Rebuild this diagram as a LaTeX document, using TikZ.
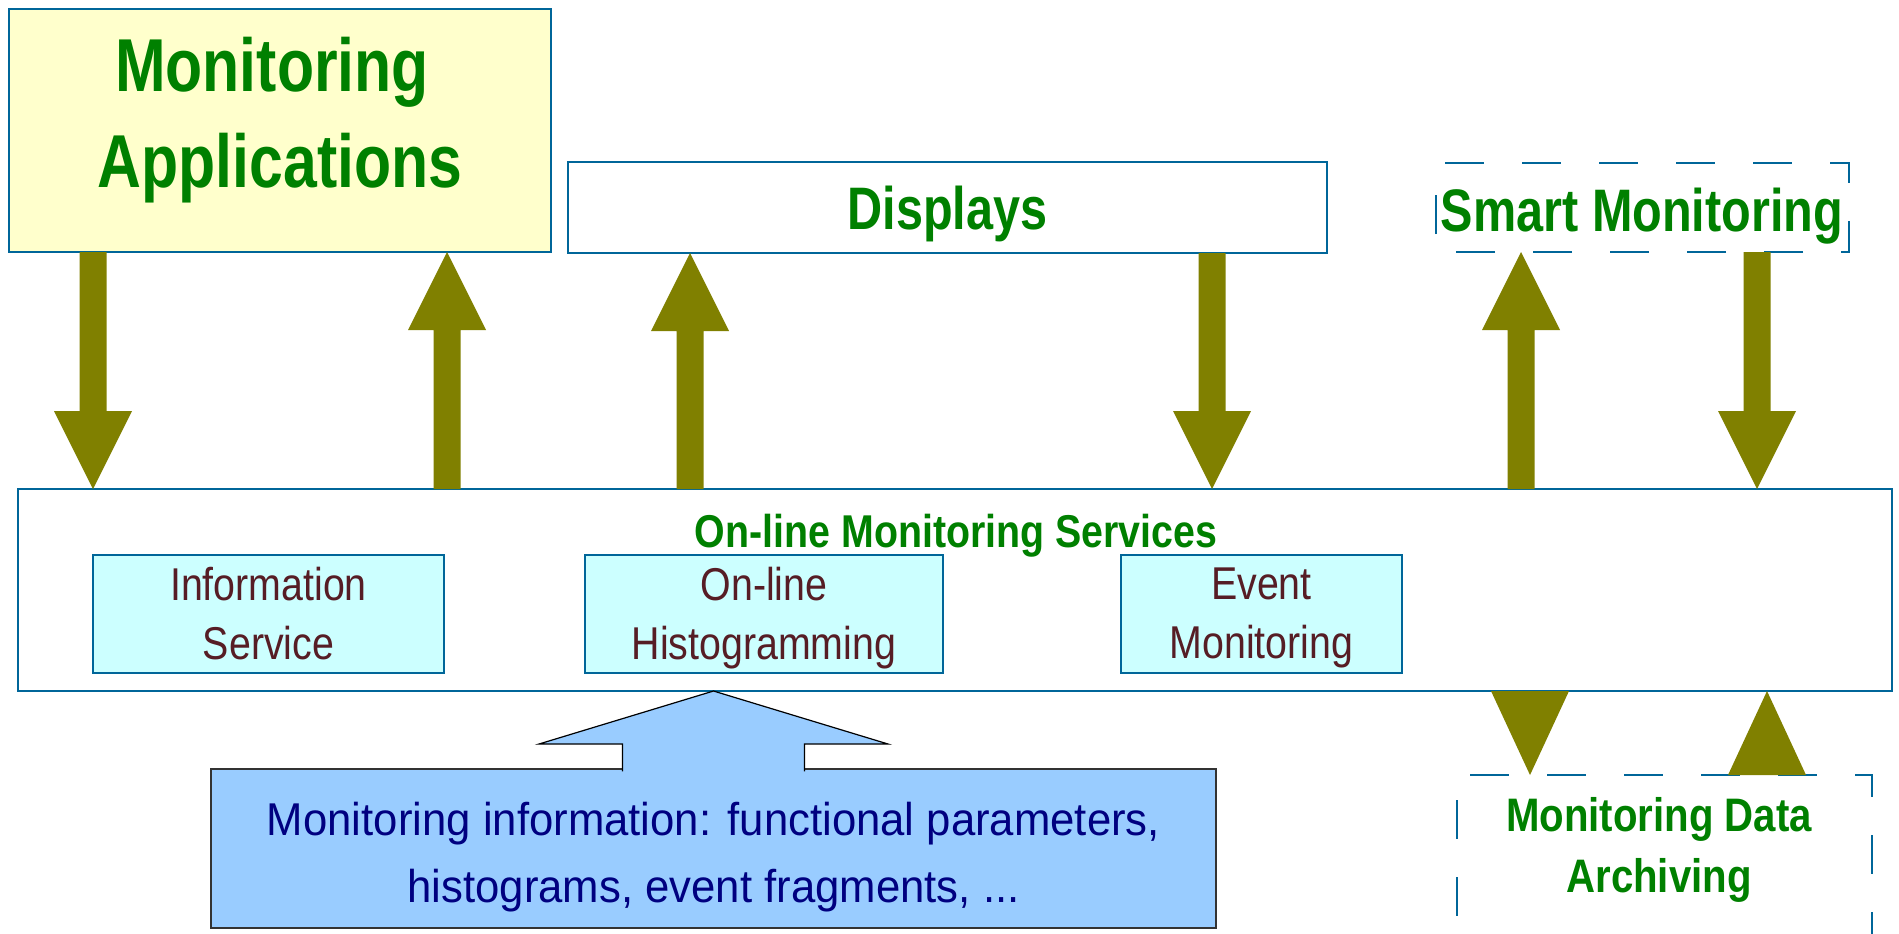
\documentclass[tikz,border=0pt]{standalone}
\usepackage{fontspec}
\setmainfont{Liberation Sans}[FakeStretch=0.81]
\newfontfamily\midface{Liberation Sans}[FakeStretch=0.855]
\newfontfamily\wideface{Liberation Sans}[FakeStretch=0.95]
\usetikzlibrary{calc,fit}

\definecolor{olivearrow}{RGB}{128,128,0}
\definecolor{frameblue}{RGB}{0,102,153}
\definecolor{appfill}{RGB}{255,255,204}
\definecolor{svcfill}{RGB}{204,255,255}
\definecolor{feedfill}{RGB}{153,204,255}
\definecolor{titlegreen}{RGB}{0,128,0}
\definecolor{svctext}{RGB}{86,29,37}
\definecolor{feedtext}{RGB}{0,0,128}

\newcommand{\fsz}[2]{\fontsize{#1}{#2}\selectfont}

% thick olive block arrow from a tail point to a tip point on one vertical
\newcommand{\blockarrow}[2]{%
  \fill[olivearrow] let \p1=(#1), \p2=(#2), \n1={sign(\y1-\y2)} in
    ({\x1-6.75pt},\y1) -- ({\x1+6.75pt},\y1) --
    ({\x1+6.75pt},{\y2+\n1*39pt}) -- ({\x1+19.5pt},{\y2+\n1*39pt}) --
    (\x2,\y2) --
    ({\x1-19.5pt},{\y2+\n1*39pt}) -- ({\x1-6.75pt},{\y2+\n1*39pt}) -- cycle;}

% olive arrow head only, base on #1, point on #2
\newcommand{\headonly}[2]{%
  \fill[olivearrow] let \p1=(#1), \p2=(#2) in
    ({\x2-19.5pt},\y1) -- ({\x2+19.5pt},\y1) -- (\x2,\y2) -- cycle;}

\tikzset{
  panel/.style={rectangle, inner sep=0pt, outer sep=0pt, draw=frameblue, line width=1pt},
  subpanel/.style={panel, fill=svcfill, line width=0.8pt},
  ghost/.style={rectangle, inner sep=0pt, outer sep=0pt},
  dashframe/.style={draw=frameblue, line width=1pt, dash pattern=on 19.5pt off 19pt},
  greentitle/.style={text=titlegreen, inner sep=0pt, align=center},
  svclabel/.style={text=svctext, inner sep=0pt, align=center, font=\midface\fsz{23}{29.5}},
}

\begin{document}
\begin{tikzpicture}[x=0.5pt, y=-0.5pt]
  \useasboundingbox (0,0) rectangle (1899,933);
  \fill[white] (0,0) rectangle (1899,933);

  % upper level boxes
  \node[panel, fill=appfill, fit={(9,9) (551,252)}] (apps) {};
  \node[panel, fill=white, fit={(568,162) (1327,253)}] (disp) {};
  \node[ghost, fit={(1436,163) (1849,252)}] (smart) {};
  \draw[dashframe, dash phase=34pt]
    (smart.north west) -- (smart.north east) -- (smart.south east) -- (smart.south west) -- cycle;

  % services layer
  \node[panel, fill=white, fit={(18,489) (1892,691)}] (svc) {};
  \node[subpanel, fit={(93,555) (444,673)}] (infosvc) {};
  \node[subpanel, fit={(585,555) (943,673)}] (histo) {};
  \node[subpanel, fit={(1121,555) (1402,673)}] (evmon) {};

  % archiving box, open at the bottom
  \node[ghost, fit={(1457,775) (1872,955)}] (arch) {};
  \draw[dashframe, dash phase=32pt] (arch.north west) -- (arch.north east) -- (arch.south east);
  \draw[dashframe, dash phase=26pt] (arch.north west) -- (arch.south west);

  % monitoring information source
  \node[rectangle, inner sep=0pt, outer sep=0pt, fill=feedfill, draw=black!80, line width=0.75pt,
        fit={(211,769) (1216,928)}] (feed) {};
  \filldraw[fill=feedfill, draw=black, line width=0.6pt]
    let \p1=(feed.north), \p2=(svc.south) in
    ({\x1-45.5pt},{\y1-1.2pt}) -- ({\x1-45.5pt},{\y1+12.5pt}) -- ({\x1-87.25pt},{\y1+12.5pt}) --
    (\x1,\y2) -- ({\x1+87.25pt},{\y1+12.5pt}) -- ({\x1+45.5pt},{\y1+12.5pt}) -- ({\x1+45.5pt},{\y1-1.2pt});

  % texts
  \node[greentitle, font=\bfseries\fsz{37.5}{48}] (appstext) at (280,120) {Monitoring\hspace*{8pt}\\Applications};
  \node[greentitle, font=\bfseries\fsz{30}{36}, anchor=base] (disptext) at (947.5,229) {Displays};
  \node[greentitle, font=\bfseries\fsz{30}{36}, anchor=base] (smarttext) at (1642,231) {Smart Monitoring};
  \node[greentitle, font=\midface\bfseries\fsz{23}{28}, anchor=base] (svctext) at (956,547) {On-line Monitoring Services};
  \node[greentitle, font=\midface\bfseries\fsz{23.5}{30.5}] (archtext) at (1659,850) {Monitoring Data\\Archiving};
  \node[svclabel] (infotext) at (268.5,614) {Information\\Service};
  \node[svclabel] (histotext) at (764,618) {On-line\\Histogramming};
  \node[svclabel] (evtext) at (1261.5,618) {Event\\Monitoring};
  \node[text=feedtext, inner sep=0pt, align=center, font=\wideface\fsz{23}{33.5}] (feedlabel) at (713.5,857)
    {Monitoring information: functional parameters,\\histograms, event fragments, ...};

  % arrow columns
  \coordinate (c1) at (93,0);
  \coordinate (c2) at (447,0);
  \coordinate (c3) at (690,0);
  \coordinate (c4) at (1212,0);
  \coordinate (c5) at (1521,0);
  \coordinate (c6) at (1757,0);
  \coordinate (c7) at (1530,0);
  \coordinate (c8) at (1767,0);

  \blockarrow{c1 |- apps.south}{c1 |- svc.north}
  \blockarrow{c2 |- svc.north}{c2 |- apps.south}
  \blockarrow{c3 |- svc.north}{c3 |- disp.south}
  \blockarrow{c4 |- disp.south}{c4 |- svc.north}
  \blockarrow{c5 |- svc.north}{c5 |- smart.south}
  \blockarrow{c6 |- smart.south}{c6 |- svc.north}
  \headonly{c7 |- svc.south}{c7 |- arch.north}
  \headonly{c8 |- arch.north}{c8 |- svc.south}
\end{tikzpicture}
\end{document}
